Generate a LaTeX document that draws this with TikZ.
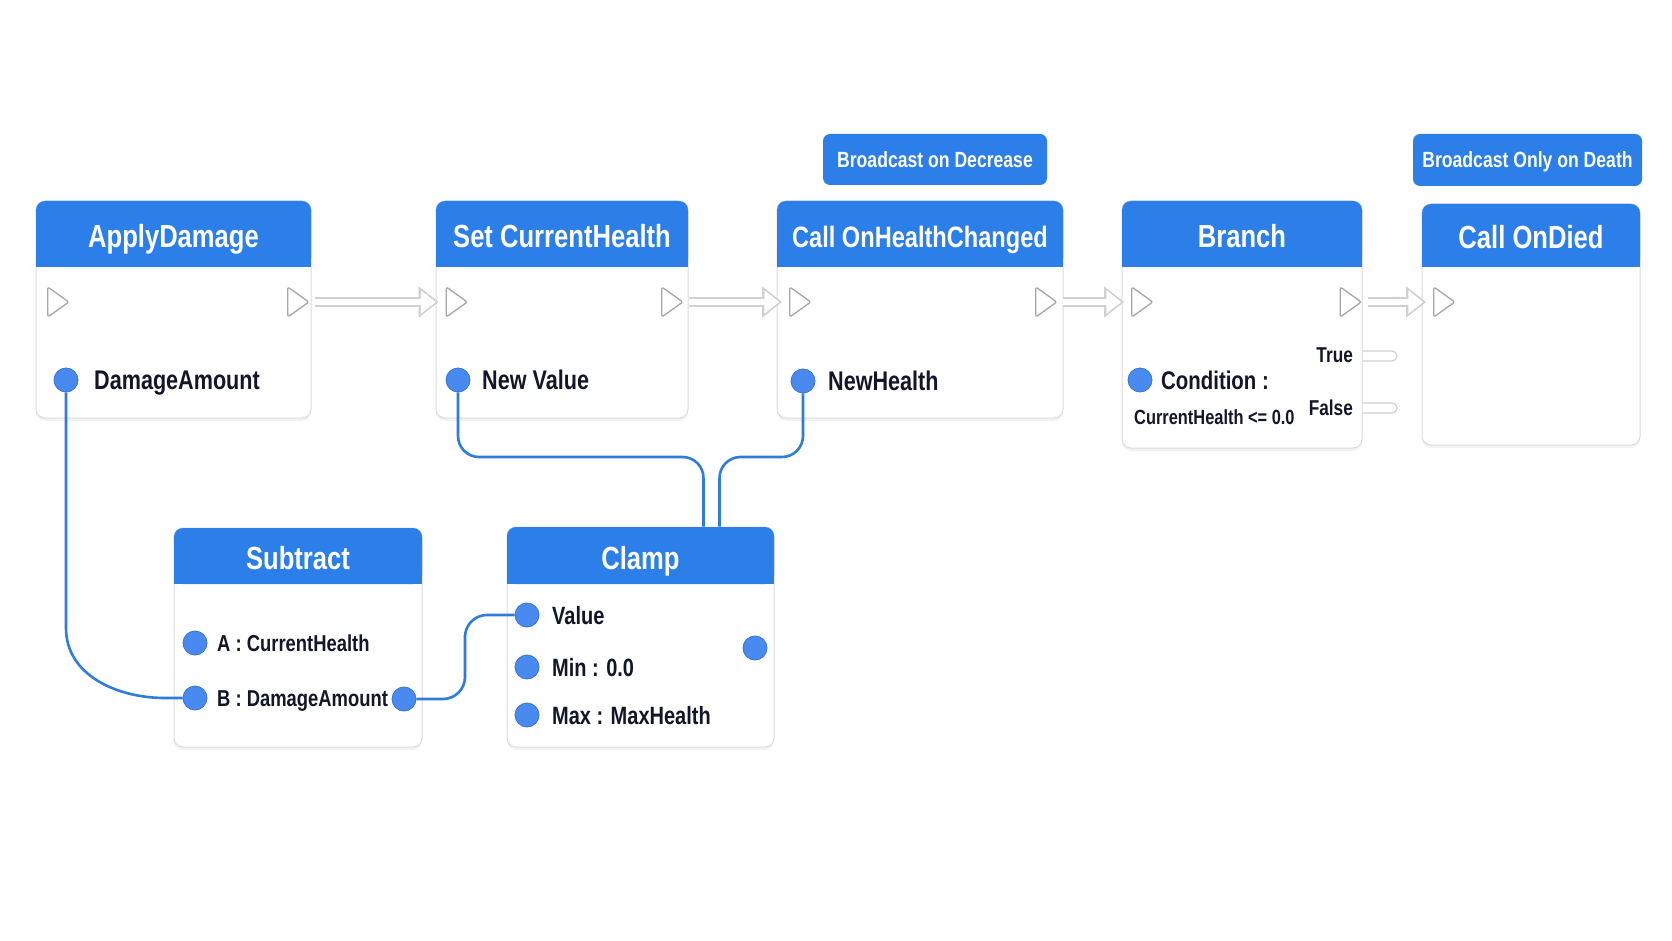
\documentclass[tikz,border=0pt]{standalone}
\usepackage{fontspec}
\setmainfont{Liberation Sans}[FakeStretch=0.8]
\usetikzlibrary{arrows.meta,calc,fit,shadows,shapes.geometric}
\definecolor{hdrblue}{RGB}{44,126,232}
\definecolor{pinblue}{RGB}{72,138,240}
\definecolor{pinedge}{RGB}{52,116,220}
\definecolor{wireblue}{RGB}{46,124,222}
\definecolor{bodyline}{RGB}{218,220,224}
\definecolor{execgray}{RGB}{165,165,170}
\definecolor{flowgray}{RGB}{208,208,212}
\definecolor{labelink}{RGB}{18,22,40}
\tikzset{
    nodebody/.style={draw=bodyline,fill=white,line width=1pt,rounded corners=9pt,inner sep=0pt,
        drop shadow={opacity=0.10,shadow xshift=0pt,shadow yshift=-3pt}},
    hdrtext/.style={text=white,inner sep=0pt,text height=23pt,text depth=0pt,
        font=\bfseries\fontsize{32}{36}\selectfont},
    tagbox/.style={fill=hdrblue,rounded corners=7pt,text=white,inner sep=0pt,
        text height=15.8pt,text depth=0pt,font=\bfseries\fontsize{22}{24}\selectfont},
    execpin/.style={isosceles triangle,isosceles triangle stretches,shape border rotate=0,
        draw=execgray,fill=white,line width=1.3pt,line join=round,rounded corners=2pt,inner sep=0pt,
        minimum width=30pt,minimum height=21pt},
    datapin/.style={circle,fill=pinblue,draw=pinedge,line width=0.8pt,minimum size=24pt,inner sep=0pt},
    pinlabel/.style={anchor=west,inner sep=0pt,text=labelink,text height={0.72*#1pt},text depth=0pt,
        font=\bfseries\fontsize{#1}{#1}\selectfont},
    pinlabel/.default=27,
    outstub/.style={draw=flowgray,fill=white,line width=1.2pt,rounded corners=5pt,
        minimum width=44pt,minimum height=10pt,inner sep=0pt},
    datawire/.style={wireblue,line width=2.6pt},
    execflow/.style={draw=flowgray,line width=10pt,shorten <=5pt,shorten >=7pt,
        -{Triangle[length=20pt,width=30pt]},
        postaction={draw=white,line width=6.5pt,shorten <=5pt,shorten >=9.8pt,
            -{Triangle[length=15pt,width=22.5pt]}}}
}
% blueprint node: name, x1, y1, x2, y2, header bottom, title
\newcommand{\bpnode}[7]{%
    \node[nodebody,fit={(#2,#3) (#4,#5)}] (#1) {};
    \fill[hdrblue,rounded corners=9pt] (#2,#3) rectangle (#4,#6);
    \fill[hdrblue] (#2,#6-12) rectangle (#4,#6);
    \node[hdrtext] (#1-title) at ({(#2+#4)/2},{(#3+#6)/2+2}) {#7};
}

\begin{document}
\begin{tikzpicture}[x=1pt,y=-1pt]
    \useasboundingbox[fill=white] (0,0) rectangle (1672,941);
    % Branch outputs (sit under the box)
    \node[outstub] (truestub) at (1375,356) {};
    \node[outstub] (falsestub) at (1375,408) {};
    % Nodes
    \bpnode{apply}{36}{201}{311}{418}{267}{ApplyDamage}
    \bpnode{setch}{436}{201}{688}{418}{267}{Set CurrentHealth}
    \bpnode{callhc}{777}{201}{1063}{418}{267}{\fontsize{29.5}{32}\selectfont Call OnHealthChanged}
    \bpnode{branch}{1122}{201}{1362}{448}{267}{Branch}
    \bpnode{died}{1422}{204}{1640}{445}{267}{Call OnDied}
    \bpnode{subtract}{174}{528}{422}{747}{584}{Subtract}
    \bpnode{clamp}{507}{527}{774}{747}{584}{Clamp}
    % Tags
    \node[tagbox,minimum width=224pt,minimum height=51pt] (decreasetag) at (935,159.5) {Broadcast on Decrease};
    \node[tagbox,minimum width=229pt,minimum height=52pt] (deathtag) at (1527.5,160) {Broadcast Only on Death};
    % Exec pins
    \foreach \pinname/\px in {applyin/55.5,applyout/295.5,setin/454,setout/669.5,callin/797.5,
        callout/1043.5,branchin/1139.5,branchout/1348,diedin/1441.5}
        \node[execpin] (\pinname) at (\px,302) {};
    % Exec flow
    \draw[execflow] (applyout) -- (setin);
    \draw[execflow] (setout) -- (callin);
    \draw[execflow] (callout) -- (branchin);
    \draw[execflow] (branchout) -- (diedin);
    % Data pins
    \node[datapin] (dmgpin) at (66,380) {};
    \node[pinlabel] (dmglabel) at (94,380) {DamageAmount};
    \node[datapin] (nvpin) at (458,380) {};
    \node[pinlabel] (nvlabel) at (482,380) {New Value};
    \node[datapin] (nhpin) at (803,381) {};
    \node[pinlabel] (nhlabel) at (828,381) {NewHealth};
    \node[datapin] (condpin) at (1140,380) {};
    \node[pinlabel=25.5] (condlabel) at (1161,380) {Condition :};
    \node[pinlabel=20.5] (condexpr) at (1134,417) {CurrentHealth <= 0.0};
    \node[pinlabel=21.5,anchor=east] (truelabel) at (1353,355) {True};
    \node[pinlabel=21.5,anchor=east] (falselabel) at (1353,408) {False};
    \node[datapin] (apin) at (195,643) {};
    \node[pinlabel=23] (alabel) at (217,643) {A : CurrentHealth};
    \node[datapin] (bpin) at (195,698) {};
    \node[pinlabel=23] (blabel) at (217,698) {B : DamageAmount};
    \node[datapin] (bout) at (404,699) {};
    \node[datapin] (valpin) at (527,615) {};
    \node[pinlabel=25] (vallabel) at (552,615) {Value};
    \node[datapin] (minpin) at (527,667) {};
    \node[pinlabel=25] (minlabel) at (552,667) {Min : 0.0};
    \node[datapin] (maxpin) at (527,715) {};
    \node[pinlabel=25] (maxlabel) at (552,715) {Max : MaxHealth};
    \node[datapin] (clampout) at (755,648) {};
    \coordinate (clampinA) at ([xshift=197pt]clamp.north west);
    \coordinate (clampinB) at ([xshift=213pt]clamp.north west);
    % Data wires
    \draw[datawire] (dmgpin) -- (66,628) to[out=-90,in=180] (165,698) -- (bpin);
    \draw[datawire,rounded corners=22pt] (bout) -| (465,657) |- (valpin);
    \draw[datawire,rounded corners=21pt] (nvpin) |- (clampinA |- 0,457) -- (clampinA);
    \draw[datawire,rounded corners=21pt] (nhpin) |- (clampinB |- 0,457) -- (clampinB);
\end{tikzpicture}
\end{document}
